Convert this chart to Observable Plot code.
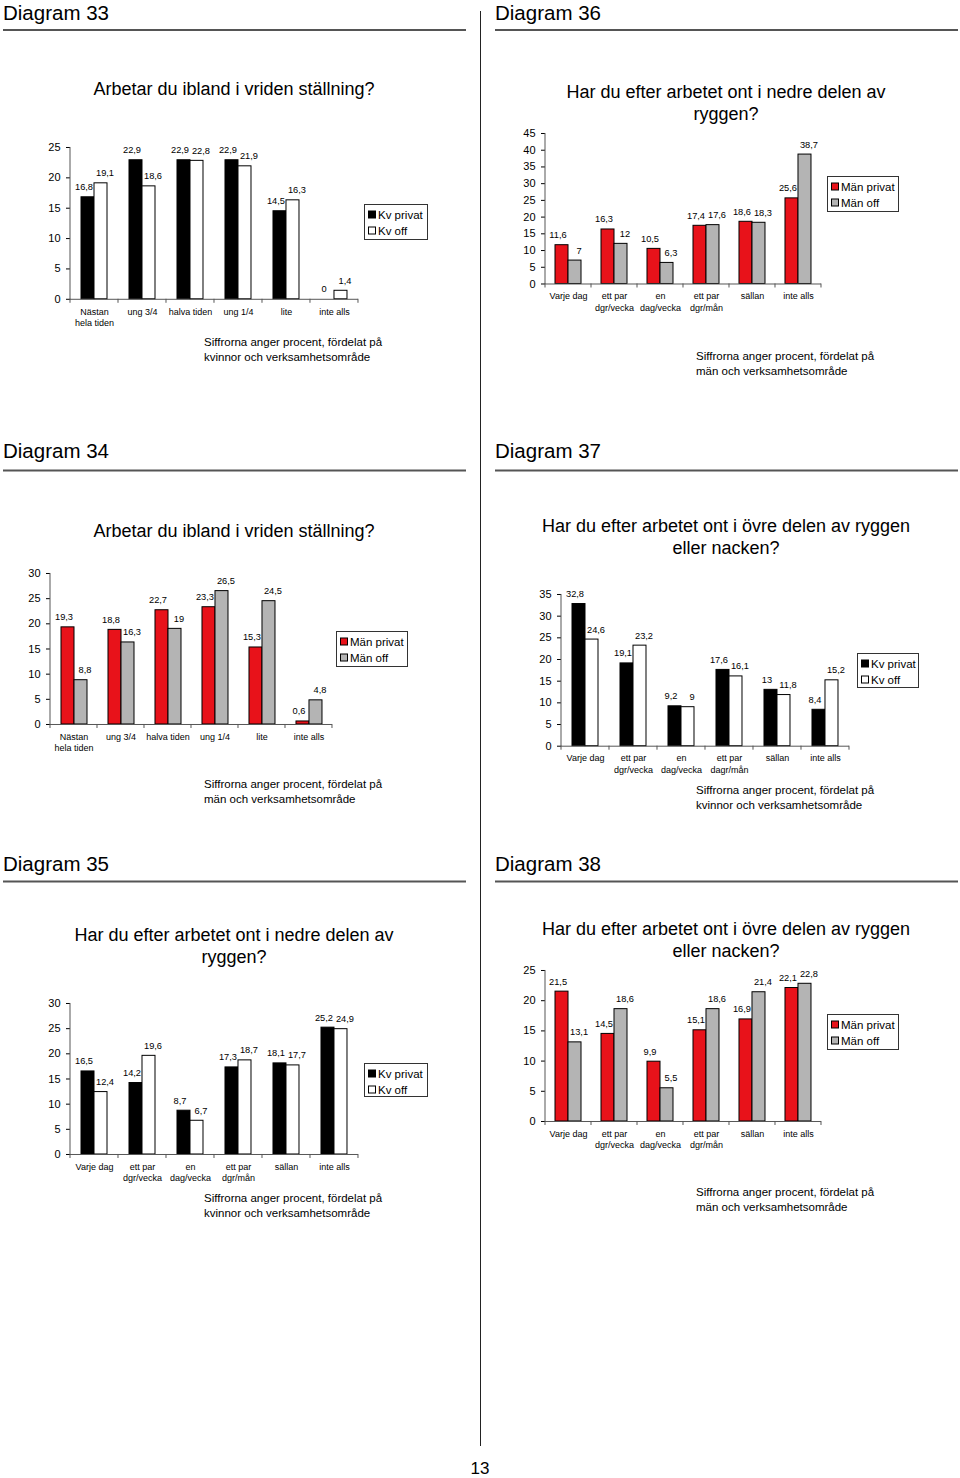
<!DOCTYPE html>
<html>
<head>
<meta charset="utf-8">
<script src="https://cdn.jsdelivr.net/npm/d3@7"></script>
<script src="https://cdn.jsdelivr.net/npm/@observablehq/plot@0.6"></script>
<style>
  html, body { margin: 0; padding: 0; background: #fff; }
  #page { position: relative; width: 960px; height: 1478px; overflow: hidden; font-family: "Liberation Sans", Arial, Helvetica, sans-serif; }
  #page svg { position: absolute; }
</style>
</head>
<body>
<div id="page"></div>
<script>
// ---------- DATA ----------
const catsTime = ["Nästan\nhela tiden", "ung 3/4", "halva tiden", "ung 1/4", "lite", "inte alls"];
const catsFreq = ["Varje dag", "ett par\ndgr/vecka", "en\ndag/vecka", "ett par\ndgr/mån", "sällan", "inte alls"];
const catsFreq37 = ["Varje dag", "ett par\ndgr/vecka", "en\ndag/vecka", "ett par\ndagr/mån", "sällan", "inte alls"];

const seriesKv = ["Kv privat", "Kv off"];
const seriesMan = ["Män privat", "Män off"];

const d33KvPrivat = [16.8, 22.9, 22.9, 22.9, 14.5, 0];
const d33KvOff    = [19.1, 18.6, 22.8, 21.9, 16.3, 1.4];
const d34ManPrivat = [19.3, 18.8, 22.7, 23.3, 15.3, 0.6];
const d34ManOff    = [8.8, 16.3, 19, 26.5, 24.5, 4.8];
const d35KvPrivat = [16.5, 14.2, 8.7, 17.3, 18.1, 25.2];
const d35KvOff    = [12.4, 19.6, 6.7, 18.7, 17.7, 24.9];
const d36ManPrivat = [11.6, 16.3, 10.5, 17.4, 18.6, 25.6];
const d36ManOff    = [7, 12, 6.3, 17.6, 18.3, 38.7];
const d37KvPrivat = [32.8, 19.1, 9.2, 17.6, 13, 8.4];
const d37KvOff    = [24.6, 23.2, 9, 16.1, 11.8, 15.2];
const d38ManPrivat = [21.5, 14.5, 9.9, 15.1, 16.9, 22.1];
const d38ManOff    = [13.1, 18.6, 5.5, 18.6, 21.4, 22.8];

const ticks25 = [0, 5, 10, 15, 20, 25];
const ticks30 = [0, 5, 10, 15, 20, 25, 30];
const ticks35 = [0, 5, 10, 15, 20, 25, 30, 35];
const ticks45 = [0, 5, 10, 15, 20, 25, 30, 35, 40, 45];

const titleTime = ["Arbetar du ibland i vriden ställning?"];
const titleLow = ["Har du efter arbetet ont i nedre delen av", "ryggen?"];
const titleUp = ["Har du efter arbetet ont i övre delen av ryggen", "eller nacken?"];
const captionKv = ["Siffrorna anger procent, fördelat på", "kvinnor och verksamhetsområde"];
const captionMan = ["Siffrorna anger procent, fördelat på", "män och verksamhetsområde"];

// ---------- STYLE / LAYOUT ----------
const FONT = '"Liberation Sans", Arial, Helvetica, sans-serif';
const colorsKv = ["#000000", "#ffffff"];
const colorsMan = ["#e8121a", "#b4b4b4"];
const fmt = v => String(v).replace(".", ",");

const charts = [
  { heading: "Diagram 33", hx: 3, hy: 20, lineY: 30, lx1: 3, lx2: 466,
    title: titleTime, tx: 234, ty: 89,
    categories: catsTime, series: seriesKv, colors: colorsKv, values: [d33KvPrivat, d33KvOff], ticks: ticks25,
    axisLeft: 68.3, axisRight: 361, zeroY: 298.3, topY: 146.5, yMax: 25,
    legend: { x: 364, y: 204, w: 63, h: 35 }, caption: captionKv, cx: 204, cy: 342 },
  { heading: "Diagram 36", hx: 495, hy: 20, lineY: 30, lx1: 495, lx2: 958,
    title: titleLow, tx: 726, ty: 92,
    categories: catsFreq, series: seriesMan, colors: colorsMan, values: [d36ManPrivat, d36ManOff], ticks: ticks45,
    axisLeft: 542.5, axisRight: 823.3, zeroY: 283.3, topY: 132.8, yMax: 45,
    legend: { x: 827, y: 176, w: 71, h: 35 }, caption: captionMan, cx: 696, cy: 356 },
  { heading: "Diagram 34", hx: 3, hy: 458, lineY: 470.5, lx1: 3, lx2: 466,
    title: titleTime, tx: 234, ty: 531,
    categories: catsTime, series: seriesMan, colors: colorsMan, values: [d34ManPrivat, d34ManOff], ticks: ticks30,
    axisLeft: 49, axisRight: 332.7, zeroY: 724.3, topY: 573.3, yMax: 30,
    legend: { x: 336, y: 631, w: 71, h: 35 }, caption: captionMan, cx: 204, cy: 784 },
  { heading: "Diagram 37", hx: 495, hy: 458, lineY: 470.5, lx1: 495, lx2: 958,
    title: titleUp, tx: 726, ty: 526,
    categories: catsFreq37, series: seriesKv, colors: colorsKv, values: [d37KvPrivat, d37KvOff], ticks: ticks35,
    axisLeft: 558, axisRight: 851.7, zeroY: 745.7, topY: 594, yMax: 35,
    legend: { x: 857, y: 653, w: 61, h: 34 }, caption: captionKv, cx: 696, cy: 790 },
  { heading: "Diagram 35", hx: 3, hy: 871, lineY: 881.5, lx1: 3, lx2: 466,
    title: titleLow, tx: 234, ty: 935,
    categories: catsFreq, series: seriesKv, colors: colorsKv, values: [d35KvPrivat, d35KvOff], ticks: ticks30,
    axisLeft: 68.3, axisRight: 361, zeroY: 1154.3, topY: 1003.3, yMax: 30,
    legend: { x: 364, y: 1063, w: 63, h: 33 }, caption: captionKv, cx: 204, cy: 1198 },
  { heading: "Diagram 38", hx: 495, hy: 871, lineY: 881.5, lx1: 495, lx2: 958,
    title: titleUp, tx: 726, ty: 929,
    categories: catsFreq, series: seriesMan, colors: colorsMan, values: [d38ManPrivat, d38ManOff], ticks: ticks25,
    axisLeft: 541.7, axisRight: 823, zeroY: 1121, topY: 970, yMax: 25,
    legend: { x: 827, y: 1014, w: 71, h: 35 }, caption: captionMan, cx: 696, cy: 1192 }
];

const page = document.getElementById("page");

// ---------- Overlay: headings, titles, captions, legends ----------
const ov = d3.select(page).append("svg")
  .attr("width", 960).attr("height", 1478)
  .style("left", "0px").style("top", "0px")
  .style("font-family", FONT);

// vertical divider
ov.append("line").attr("x1", 480.5).attr("x2", 480.5).attr("y1", 11).attr("y2", 1446)
  .attr("stroke", "#222").attr("stroke-width", 1);
// page number
ov.append("text").attr("x", 480).attr("y", 1474).attr("text-anchor", "middle")
  .attr("font-size", 17).text("13");

charts.forEach(c => {
  ov.append("text").attr("x", c.hx).attr("y", c.hy).attr("font-size", 20.5).text(c.heading);
  ov.append("line").attr("x1", c.lx1).attr("x2", c.lx2).attr("y1", c.lineY).attr("y2", c.lineY)
    .attr("stroke", "#555").attr("stroke-width", 2);
  c.title.forEach((t, i) => {
    ov.append("text").attr("x", c.tx).attr("y", c.ty + i * 22).attr("text-anchor", "middle")
      .attr("dominant-baseline", "central").attr("font-size", 18).text(t);
  });
  c.caption.forEach((t, i) => {
    ov.append("text").attr("x", c.cx).attr("y", c.cy + i * 14.5)
      .attr("dominant-baseline", "central").attr("font-size", 11.5).text(t);
  });
  const L = c.legend;
  ov.append("rect").attr("x", L.x + 0.5).attr("y", L.y + 0.5).attr("width", L.w).attr("height", L.h)
    .attr("fill", "#fff").attr("stroke", "#333");
  c.series.forEach((s, i) => {
    const cy = L.y + 10.5 + i * 16;
    ov.append("rect").attr("x", L.x + 4.5).attr("y", cy - 3.5).attr("width", 7).attr("height", 7)
      .attr("fill", c.colors[i]).attr("stroke", "#000");
    ov.append("text").attr("x", L.x + 14).attr("y", cy).attr("dominant-baseline", "central")
      .attr("font-size", 11.5).text(s);
  });
});

// ---------- Charts ----------
function drawChart(c) {
  const rows = [];
  c.categories.forEach((cat, i) => c.series.forEach((ser, j) => rows.push({ cat, ser, val: c.values[j][i] })));
  const mL = 42, mR = 6, mT = 24, mB = 44;
  const width = c.axisRight - c.axisLeft + mL + mR;
  const height = c.zeroY - c.topY + mT + mB;
  const labelMark = (ser, dx) => Plot.text(rows.filter(d => d.ser === ser), {
    fx: "cat", x: "ser", y: "val", text: d => fmt(d.val), dy: -10, dx, fontSize: 9.3, fill: "#000"
  });
  const plot = Plot.plot({
    width, height,
    marginLeft: mL, marginRight: mR, marginTop: mT, marginBottom: mB,
    style: { fontFamily: FONT, background: "transparent", color: "#000", overflow: "visible", maxWidth: "none" },
    fx: { domain: c.categories, padding: 0, label: null },
    x: { domain: c.series, paddingInner: 0, paddingOuter: 0.73, axis: null },
    y: { domain: [0, c.yMax], axis: null },
    color: { domain: c.series, range: c.colors },
    marks: [
      Plot.barY(rows, { fx: "cat", x: "ser", y: "val", fill: "ser", stroke: "#000", strokeWidth: 1 }),
      Plot.ruleY([0], { stroke: "#555" }),
      labelMark(c.series[0], -4),
      labelMark(c.series[1], 4),
      Plot.axisY(c.ticks, { tickSize: 4, tickPadding: 6, fontSize: 11, label: null }),
      Plot.axisFx({ anchor: "bottom", tickSize: 0, tickPadding: 7, fontSize: 9, lineHeight: 1.3, label: null })
    ]
  });
  const svgEl = plot.tagName.toLowerCase() === "svg" ? plot : plot.querySelector("svg");
  plot.style.position = "absolute";
  plot.style.left = (c.axisLeft - mL) + "px";
  plot.style.top = (c.topY - mT) + "px";
  page.appendChild(plot);

  // axis lines derived from the plot's own scales
  const fxS = plot.scale("fx"), yS = plot.scale("y");
  const y0 = yS.apply(0), yTop = yS.apply(c.yMax);
  const bounds = c.categories.map(cat => fxS.apply(cat));
  bounds.push(fxS.apply(c.categories[c.categories.length - 1]) + fxS.bandwidth);
  const sel = d3.select(svgEl);
  sel.append("line").attr("x1", bounds[0]).attr("x2", bounds[0]).attr("y1", y0 + 0.5).attr("y2", yTop)
    .attr("stroke", "#555");
  bounds.forEach(bx => {
    sel.append("line").attr("x1", bx).attr("x2", bx).attr("y1", y0).attr("y2", y0 + 4).attr("stroke", "#555");
  });
}

charts.forEach(drawChart);
</script>
</body>
</html>
